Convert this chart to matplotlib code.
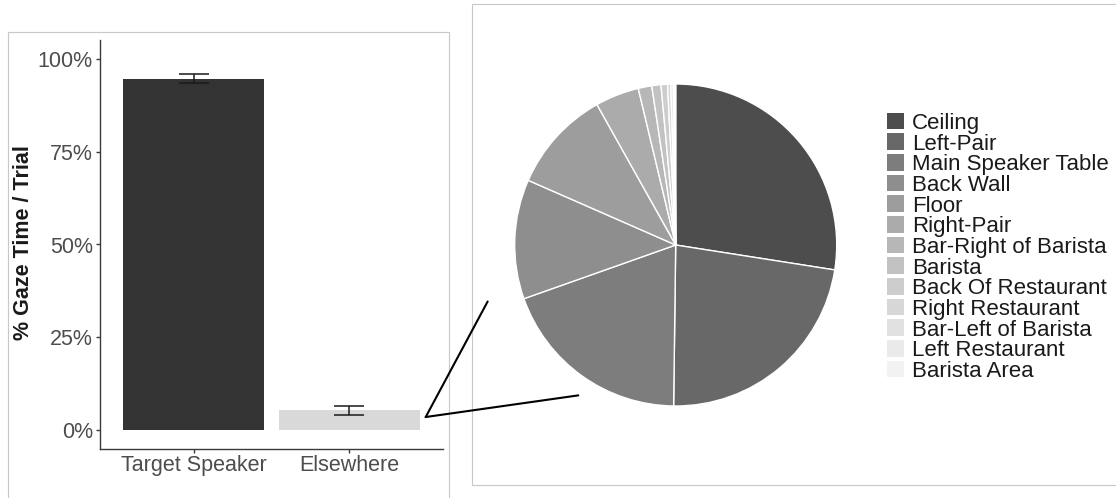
import matplotlib
matplotlib.use("Agg")
import matplotlib.pyplot as plt
from matplotlib.patches import Rectangle, ConnectionPatch
from matplotlib.ticker import FuncFormatter

plt.rcParams['font.family'] = ['Liberation Sans', 'DejaVu Sans']

# Share of gaze time per trial
gaze_categories = ["Target Speaker", "Elsewhere"]
gaze_share = [94.6, 5.4]
gaze_se = [1.2, 1.2]
bar_colors = ["#333333", "#D9D9D9"]
y_ticks = [0, 25, 50, 75, 100]

# Where the "Elsewhere" gaze went
regions = ["Ceiling", "Left-Pair", "Main Speaker Table", "Back Wall", "Floor",
           "Right-Pair", "Bar-Right of Barista", "Barista", "Back Of Restaurant",
           "Right Restaurant", "Bar-Left of Barista", "Left Restaurant", "Barista Area"]
region_share = [27.5, 22.75, 19.4, 12.0, 10.3, 4.4, 1.36, 0.92, 0.65, 0.33, 0.24, 0.14, 0.10]
region_colors = ["#4D4D4D", "#686868", "#7D7D7D", "#8E8E8E", "#9D9D9D", "#ABABAB",
                 "#B7B7B7", "#C2C2C2", "#CDCDCD", "#D7D7D7", "#E1E1E1", "#EAEAEA", "#F2F2F2"]

W, H = 1116, 498
fig = plt.figure(figsize=(W / 100, H / 100), dpi=100)
fig.patch.set_facecolor("white")


def fx(px):
    return px / W


def fy(py):
    return 1 - py / H


# Panel frames
frame_kw = dict(transform=fig.transFigure, fill=False, ec="#C8C8C8", lw=0.8)
fig.add_artist(Rectangle((fx(8), fy(510)), (449.3 - 8) / W, (510 - 32.3) / H, **frame_kw))
fig.add_artist(Rectangle((fx(472.3), fy(485)), (1130 - 472.3) / W, (485 - 4.3) / H, **frame_kw))

# ---- Bar chart ----
ax = fig.add_axes([fx(100), fy(449), 343 / W, 409 / H])
ax.bar(gaze_categories, gaze_share, width=0.9, color=bar_colors, zorder=2)
ax.errorbar(gaze_categories, gaze_share, yerr=gaze_se, fmt="none", ecolor="#1A1A1A",
            elinewidth=1.1, capsize=11, capthick=1.1, zorder=3)
ax.set_xlim(-0.6, 1.6)
ax.set_ylim(-5, 105)
ax.set_yticks(y_ticks)
ax.yaxis.set_major_formatter(FuncFormatter(lambda v, _: f"{v:.0f}%"))
for side in ("top", "right"):
    ax.spines[side].set_visible(False)
for side in ("left", "bottom"):
    ax.spines[side].set_color("#3A3A3A")
    ax.spines[side].set_linewidth(1.0)
ax.tick_params(axis="both", length=2.6, width=1.0, color="#3A3A3A",
               labelsize=15.5, labelcolor="#4D4D4D")
ax.tick_params(axis="y", pad=2.6)
ax.tick_params(axis="x", pad=1.5)
ax.set_ylabel("% Gaze Time / Trial", fontsize=15.5, fontweight="bold", color="#1A1A1A")
ax.yaxis.set_label_coords((34 - 100) / 343, 0.505)
ax.set_facecolor("none")

# ---- Pie chart ----
cx, cy, r = 675.7, 245, 161
pa = fig.add_axes([fx(cx - r), fy(cy + r), 2 * r / W, 2 * r / H])
pa.pie(region_share, colors=region_colors, startangle=90, counterclock=False, radius=1,
       wedgeprops=dict(edgecolor="white", linewidth=1.0))
pa.set_xlim(-1, 1)
pa.set_ylim(-1, 1)
pa.set_aspect("auto")
pa.axis("off")

# Zoom lines from the "Elsewhere" bar to the pie
for target in [(-1.168, -0.351), (-0.605, -0.934)]:
    con = ConnectionPatch(xyA=(1.489, 3.6), coordsA=ax.transData,
                          xyB=target, coordsB=pa.transData,
                          color="black", lw=1.5)
    fig.add_artist(con)

# ---- Legend ----
lg = fig.add_axes([0, 0, 1, 1])
lg.set_xlim(0, W)
lg.set_ylim(H, 0)
lg.axis("off")
top0, pitch, size_w, size_h = 112.7, 20.65, 17, 16.7
for i, (name, col) in enumerate(zip(regions, region_colors)):
    top = top0 + i * pitch
    lg.add_patch(Rectangle((887.3, top), size_w, size_h, color=col, lw=0))
    lg.text(911.7, top + size_h - 0.3, name, fontsize=16, color="#1A1A1A",
            va="baseline", ha="left")

fig.savefig("out.png", dpi=100, facecolor="white")
